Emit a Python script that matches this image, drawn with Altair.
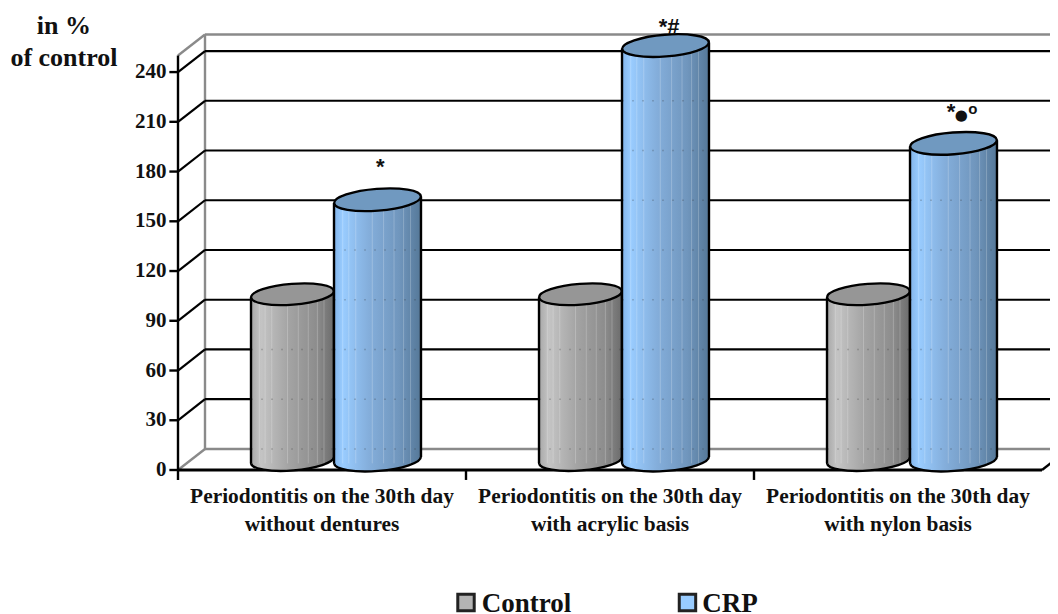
import altair as alt
import pandas as pd

categories_line1 = ["Periodontitis on the 30th day"] * 3
categories_line2 = ["without dentures", "with acrylic basis", "with nylon basis"]
control = [100, 100, 100]
crp = [157, 250, 191]
ticks = [0, 30, 60, 90, 120, 150, 180, 210, 240]

W, H = 1042, 606
XS = alt.Scale(domain=[-170 / 288, 872 / 288], nice=False, zero=False)
YS = alt.Scale(domain=[-86.85, 278.65], nice=False, zero=False)
DX, DY = 0.09375, 12.7       # depth of the 3D box
TOP = 250
BASE = 6                     # centre of cylinder floor above front axis
K = 1.9                      # tilt of the ellipses
SERIF = "Liberation Serif"
BOLD = dict(font=SERIF, fontWeight="bold", color="#111111")
STRIPES = [0.1, 0.17, 0.25, 0.44, 0.57, 0.69, 0.8, 0.88]

X = alt.X("x:Q", scale=XS, axis=None)
Y = alt.Y("y:Q", scale=YS, axis=None)


def rules(rows, color, width, **kw):
    d = pd.DataFrame(rows, columns=["x", "x2", "y", "y2"])
    return alt.Chart(d).mark_rule(color=color, strokeWidth=width, clip=True, **kw).encode(
        x=X, x2="x2:Q", y=Y, y2="y2:Q")


def texts(rows, size, align="center", **kw):
    d = pd.DataFrame(rows, columns=["x", "y", "t"])
    style = dict(BOLD)
    style.update(kw)
    return alt.Chart(d).mark_text(size=size, align=align, baseline="middle", **style).encode(
        x=X, y=Y, text="t:N")


GRAY = alt.Gradient(gradient="linear", x1=0, x2=1, y1=0, y2=0, stops=[
    alt.GradientStop(offset=0, color="#a8a8a8"),
    alt.GradientStop(offset=0.12, color="#c4c4c4"),
    alt.GradientStop(offset=0.45, color="#a4a4a4"),
    alt.GradientStop(offset=0.8, color="#8c8c8c"),
    alt.GradientStop(offset=1, color="#6c6c6c"),
])
BLUE = alt.Gradient(gradient="linear", x1=0, x2=1, y1=0, y2=0, stops=[
    alt.GradientStop(offset=0, color="#82b4ea"),
    alt.GradientStop(offset=0.1, color="#99ccff"),
    alt.GradientStop(offset=0.4, color="#84aedb"),
    alt.GradientStop(offset=0.75, color="#7096bd"),
    alt.GradientStop(offset=1, color="#557898"),
])
ELLIPSE = "M -0.997 0.078 A 1 0.25 -4.5 1 1 0.997 -0.078 A 1 0.25 -4.5 1 1 -0.997 0.078 Z"


def cylinders(values, left, width, body, top_color, size):
    rows, sides, tops, floors, light, ghost = [], [], [], [], [], []
    for i, v in enumerate(values):
        x0, x1 = i + left, i + left + width
        rows.append(dict(c=i, x=x0, y=v + BASE - K, y2=BASE - K))
        rows.append(dict(c=i, x=x1, y=v + BASE + K, y2=BASE + K))
        sides.append((x0, x0, v + BASE - K, BASE - K))
        sides.append((x1, x1, v + BASE + K, BASE + K))
        tops.append(dict(x=(x0 + x1) / 2, y=v + BASE))
        floors.append(dict(x=(x0 + x1) / 2, y=BASE))
        for f in STRIPES:
            light.append((x0 + f * width, x0 + f * width, BASE - 2, v + BASE - 1))
        for t in ticks:
            if t + DY < v:
                ghost.append((x0, x1, t + DY, t + DY))
    floor = alt.Chart(pd.DataFrame(floors)).mark_point(
        shape=ELLIPSE, size=size, filled=True, fill=body, stroke="black",
        strokeWidth=2.4, opacity=1).encode(x=X, y=Y)
    wall = alt.Chart(pd.DataFrame(rows)).mark_area(color=body, line=False).encode(
        x=X, y=Y, y2="y2:Q", detail="c:N")
    top = alt.Chart(pd.DataFrame(tops)).mark_point(
        shape=ELLIPSE, size=size, filled=True, fill=top_color, stroke="black",
        strokeWidth=2.4, opacity=1).encode(x=X, y=Y)
    return [floor, wall,
            rules(light, "white", 1, opacity=0.22),
            rules(ghost, "#333333", 1.4, opacity=0.22, strokeDash=[2, 8]),
            rules(sides, "black", 2.4), top]


back_levels = [t + DY for t in ticks[1:]]
layers = [
    rules([(DX, 3.3, DY, DY), (DX, 3.3, TOP + DY, TOP + DY), (DX, DX, DY, TOP + DY)], "#8a8a8a", 2.4),
    rules([(0, DX, 0, DY), (0, DX, TOP, TOP + DY)], "#8a8a8a", 2.4),
    rules([(DX, 3.3, y, y) for y in back_levels], "black", 2.2),
    rules([(0, DX, t, t + DY) for t in ticks[1:]], "black", 2.2),
    rules([(0, 3, 0, 0)], "black", 3),
    rules([(0, 0, -6, TOP)], "black", 2.4),
    rules([(3, 3 + DX, 0, DY)], "black", 2.4),
    rules([(-0.03, 0, t, t) for t in ticks], "black", 2.4),
    rules([(i, i, -6, 0) for i in [1, 2]], "black", 2.4),
]
layers += cylinders(control, 0.2535, 0.288, GRAY, "#969696", 6889)
layers += cylinders(crp, 0.5417, 0.302, BLUE, "#7099c0", 7569)

layers += [
    texts([(-0.04, t, str(t)) for t in ticks], 21, align="right"),
    texts([(i + 0.5, -16.3, s) for i, s in enumerate(categories_line1)], 21.4),
    texts([(i + 0.5, -33.2, s) for i, s in enumerate(categories_line2)], 21.4),
    texts([(-0.396, 267.8, "in %"), (-0.396, 248.5, "of control")], 26),
    texts([(0.702, 182.5, "*"), (1.684, 267, "*"), (1.72, 267, "#"), (2.684, 216, "*")], 22,
          font="Liberation Sans"),
    texts([(2.7195, 214, "●")], 15, font="DejaVu Sans"),
    texts([(2.76, 218, "o")], 15, font="Liberation Sans"),
]
legend = pd.DataFrame([dict(x=1.0, y=-79.9, c="#b4b4b4"), dict(x=1.769, y=-79.9, c="#99ccff")])
layers.append(alt.Chart(legend).mark_square(size=270, stroke="#222222", strokeWidth=3, opacity=1).encode(
    x=X, y=Y, fill=alt.Color("c:N", scale=None)))
layers.append(texts([(1.055, -80.8, "Control"), (1.82, -80.8, "CRP")], 27, align="left"))

chart = alt.layer(*layers).properties(
    width=W, height=H, padding=0, background="white", autosize=alt.AutoSizeParams(type="none")
).configure_view(stroke=None)
chart.save("out.html", embed_options={"renderer": "svg", "actions": False})
